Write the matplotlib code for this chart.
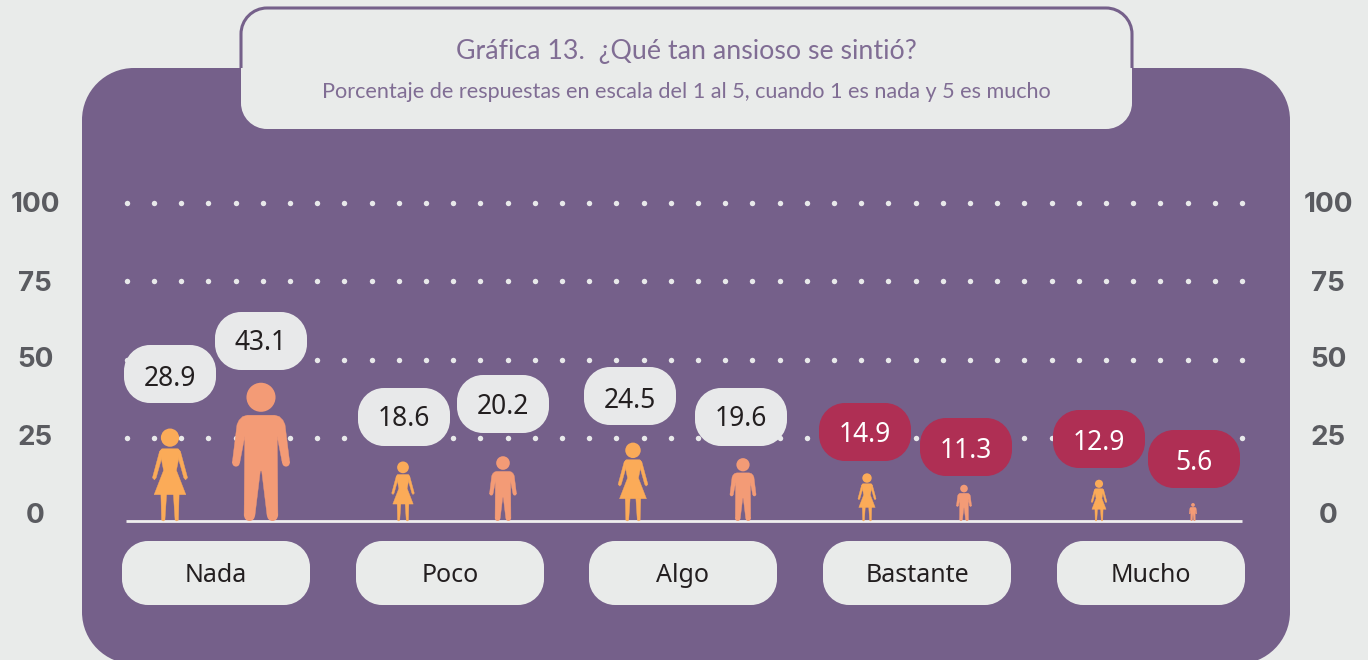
import numpy as np
import matplotlib
matplotlib.use("Agg")
import matplotlib.pyplot as plt
from matplotlib.patches import PathPatch, Ellipse, Rectangle
from matplotlib.path import Path
from matplotlib.transforms import Affine2D

# ---------- data ----------
categories = ["Nada", "Poco", "Algo", "Bastante", "Mucho"]
women = [28.9, 18.6, 24.5, 14.9, 12.9]
men = [43.1, 20.2, 19.6, 11.3, 5.6]
grid_levels = [25, 50, 75, 100]
axis_ticks = [0, 25, 50, 75, 100]
title = "Gráfica 13.  ¿Qué tan ansioso se sintió?"
subtitle = "Porcentaje de respuestas en escala del 1 al 5, cuando 1 es nada y 5 es mucho"

# ---------- layout (pixels) ----------
W, H = 1368, 660
cat_x = [216, 450, 683, 917, 1151]
woman_x = [170, 403, 633, 867, 1099]
man_x = [261, 503, 743, 964, 1193]
woman_bub = [(170, 374), (404, 417), (630, 396), (865, 432), (1099, 439)]
man_bub = [(261, 341), (503, 404), (741, 417), (966, 447), (1194, 459)]
woman_txt_dy = [1, -1, 1, 0, 0]
man_txt_dy = [-1, -1, -1, 1, 0]
highlight_below = 15

BG = "#e9ebea"
PURPLE = "#75608a"
RED = "#af2f54"
WOMAN = "#fbab58"
MAN = "#f39b76"
BUB = "#e8e9ea"
DARK = "#231f20"
GREY = "#5a5b60"
TITLE_C = "#806d94"
FONT = "Noto Sans"

fig = plt.figure(figsize=(W / 100, H / 100), dpi=100, facecolor=BG)

px = fig.add_axes([0, 0, 1, 1], zorder=1)
px.set_xlim(0, W); px.set_ylim(H, 0); px.axis("off")

# grid axes: 0 at y=516, 100 at y=203
GS = 3.13
gr = fig.add_axes([0, 0, 1, 1], zorder=2)
gr.set_xlim(0, W); gr.set_ylim(-(H - 516) / GS, 516 / GS); gr.axis("off")

# people axes: 0 at baseline y=521, 3.2 px per unit
PS = 3.2
pe = fig.add_axes([0, 0, 1, 1], zorder=3)
pe.set_xlim(0, W); pe.set_ylim(-(H - 521) / PS, 521 / PS); pe.axis("off")

tp = fig.add_axes([0, 0, 1, 1], zorder=4)
tp.set_xlim(0, W); tp.set_ylim(H, 0); tp.axis("off")


def round_path(x0, y0, x1, y1, r):
    k = r * (1 - 0.5523)
    M, L, C = Path.MOVETO, Path.LINETO, Path.CURVE4
    verts = [(x0 + r, y0), (x1 - r, y0), (x1 - k, y0), (x1, y0 + k), (x1, y0 + r),
             (x1, y1 - r), (x1, y1 - k), (x1 - k, y1), (x1 - r, y1),
             (x0 + r, y1), (x0 + k, y1), (x0, y1 - k), (x0, y1 - r),
             (x0, y0 + r), (x0, y0 + k), (x0 + k, y0), (x0 + r, y0), (x0 + r, y0)]
    codes = [M, L, C, C, C, L, C, C, C, L, C, C, C, L, C, C, C, Path.CLOSEPOLY]
    return Path(verts, codes)


def rbox(ax, x0, y0, x1, y1, r, fc, ec="none", lw=0, z=1):
    p = PathPatch(round_path(x0, y0, x1, y1, r), fc=fc, ec=ec, lw=lw, zorder=z)
    ax.add_patch(p)
    return p


rbox(px, 82, 68, 1290, 664, 52, PURPLE, z=1)
rbox(px, 241, 8, 1132, 129, 26, BG, z=2)
outline = rbox(px, 241, 8, 1132, 129, 26, "none", ec=PURPLE, lw=2.2, z=3)
outline.set_clip_path(Rectangle((0, 0), W, 68, transform=px.transData))

px.text(686.5, 51, title, ha="center", va="center", fontsize=19.3, color=TITLE_C, family="Lato", zorder=5)
px.text(686, 92, subtitle, ha="center", va="center", fontsize=15.6, color=TITLE_C, family="Lato", zorder=5)

for v, y in zip(axis_ticks, [516, 438, 360, 284, 205]):
    for x in (35, 1328):
        px.text(x, y, str(v), ha="center", va="center", fontsize=20, fontweight="bold",
                color=GREY, family="Inter", zorder=5)

dots_x = np.arange(126.7, 1246, 27.2)
for lv in grid_levels:
    gr.plot(dots_x, np.full_like(dots_x, lv), ls="none", marker="o", ms=3.9, mfc=BUB, mec="none", zorder=1)

pe.plot([126, 1242], [0, 0], color="#efeeee", lw=2.0, solid_capstyle="butt", zorder=1)

# people shapes, in reference units (woman height 274, man height 408)
WH = 274.0
woman_polys = [
    [(-23, 214), (23, 214), (30, 205), (19, 150), (47, 78), (-47, 78), (-19, 150), (-30, 205)],
    [(-24, 214), (-31, 206), (-52, 128), (-46, 122), (-41, 128), (-25, 185)],
    [(24, 214), (31, 206), (52, 128), (46, 122), (41, 128), (25, 185)],
    [(-27, 80), (-10, 80), (-15, 3), (-20, 0), (-25, 3)],
    [(10, 80), (27, 80), (25, 3), (20, 0), (15, 3)],
]
woman_heads = [(0, 247, 27)]
MH = 408.0
man_polys = [
    [(-40, 313), (40, 313), (54, 309), (65, 298), (71, 285), (85, 172), (63, 172),
     (48, 250), (50, 16), (18, 16), (2, 148), (-2, 148), (-18, 16), (-50, 16),
     (-48, 250), (-63, 172), (-85, 172), (-71, 285), (-65, 298), (-54, 309)],
]
man_heads = [(0, 366, 43), (-34, 16, 16), (34, 16, 16), (-74, 172, 11), (74, 172, 11)]


def person(x, v, polys, h0, rounds, color):
    tr = Affine2D().scale(v * PS / h0, v / h0).translate(x, 0) + pe.transData
    for p in polys:
        pe.add_patch(PathPatch(Path(np.array(p + [p[0]], float), closed=True), fc=color, ec=color, lw=0.3,
                               transform=tr, zorder=3))
    for cx, cy, r in rounds:
        pe.add_patch(Ellipse((cx, cy), 2 * r, 2 * r, fc=color, ec="none", transform=tr, zorder=3))


for i in range(len(categories)):
    person(woman_x[i], women[i], woman_polys, WH, woman_heads, WOMAN)
    person(man_x[i], men[i], man_polys, MH, man_heads, MAN)


def bubble(c, v, dy):
    hi = v < highlight_below
    rbox(tp, c[0] - 46, c[1] - 29, c[0] + 46, c[1] + 29, 26, RED if hi else BUB, z=2)
    tp.text(c[0], c[1] + dy, f"{v}", ha="center", va="center_baseline", fontsize=19, family=FONT,
            color="white" if hi else DARK, zorder=3)


for i in range(len(categories)):
    bubble(woman_bub[i], women[i], woman_txt_dy[i])
    bubble(man_bub[i], men[i], man_txt_dy[i])
    rbox(tp, cat_x[i] - 94, 541, cat_x[i] + 94, 605, 26, BG, z=2)
    tp.text(cat_x[i], 573, categories[i], ha="center", va="center_baseline", fontsize=18, family=FONT, color=DARK, zorder=3)

fig.savefig("out.png", dpi=100, facecolor=BG)
